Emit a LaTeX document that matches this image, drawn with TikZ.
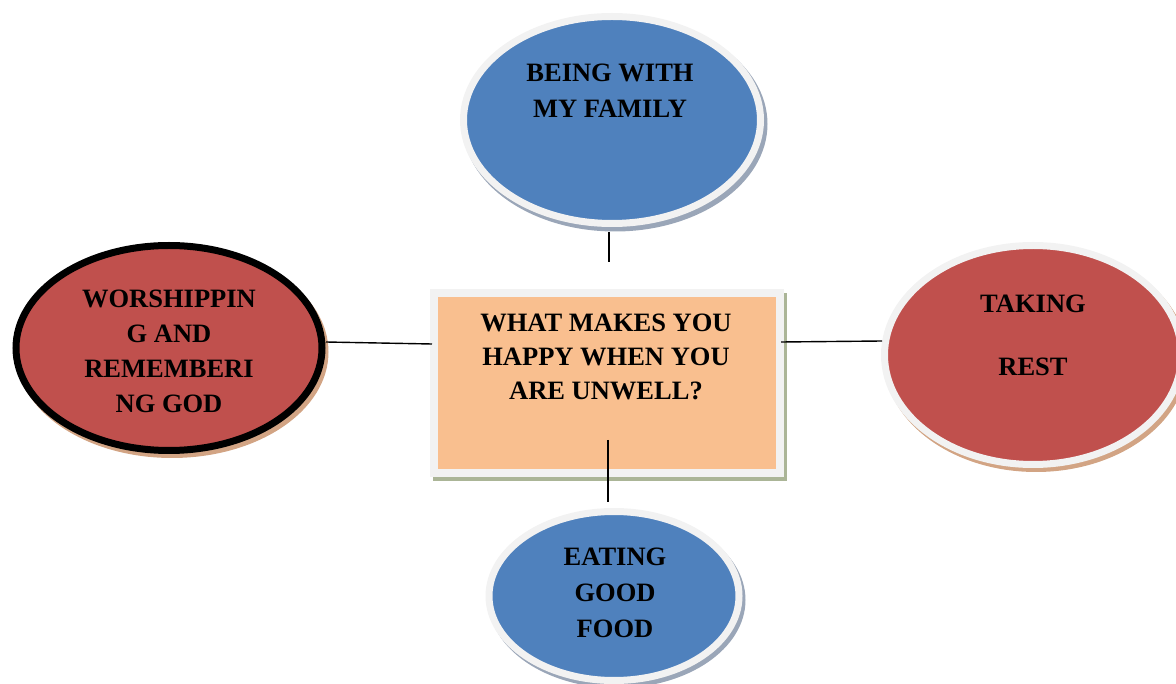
\documentclass[tikz,border=0pt]{standalone}
\usepackage{fontspec}
\setmainfont{Liberation Serif}
\usetikzlibrary{shapes.geometric}
\definecolor{blueF}{HTML}{4F81BD}
\definecolor{redF}{HTML}{C0504D}
\definecolor{orangeF}{HTML}{F9BF8F}
\definecolor{ringC}{HTML}{F2F2F2}
\definecolor{blueSh}{HTML}{9AA6B8}
\definecolor{redSh}{HTML}{D2A484}
\definecolor{rectSh}{HTML}{ABB597}
\begin{document}
\begin{tikzpicture}[x=1pt,y=-1pt,
  bubble/.style={ellipse, inner sep=0pt, line width=7pt},
  shadeE/.style={ellipse, inner sep=0pt, draw=none},
  lbl/.style={align=center, inner sep=0pt, font=\bfseries\fontsize{26.5}{#1}\selectfont},
  link/.style={line width=1.4pt, draw=black}]
\useasboundingbox (0,0) rectangle (1176,684);

% top ellipse
\node[shadeE, fill=blueSh, minimum width=305pt, minimum height=215pt] (topS) at (615,124) {};
\node[bubble, fill=blueF, draw=ringC, minimum width=297pt, minimum height=207pt] (top) at (612,120) {};
\node[lbl=36] (topT) at (610,91) {BEING WITH\\MY FAMILY};

% center rectangle
\node[rectangle, inner sep=0pt, fill=rectSh, minimum width=354pt, minimum height=188pt] (ctrS) at (609.5,387) {};
\node[rectangle, inner sep=0pt, line width=8pt, draw=ringC, fill=orangeF, minimum width=346pt, minimum height=180pt] (ctr) at (606.5,383) {};
\node[lbl=34] (ctrT) at (606,357) {WHAT MAKES YOU\\HAPPY WHEN YOU\\ARE UNWELL?};

% left ellipse
\node[shadeE, fill=redSh, minimum width=313pt, minimum height=212pt] (leftS) at (172,352) {};
\node[bubble, fill=redF, draw=black, minimum width=306pt, minimum height=205pt] (left) at (169,348) {};
\node[lbl=35] (leftT) at (169,351) {WORSHIPPIN\\G AND\\REMEMBERI\\NG GOD};

% right ellipse
\node[shadeE, fill=redSh, minimum width=304pt, minimum height=226pt] (rightS) at (1036,359) {};
\node[bubble, fill=redF, draw=ringC, minimum width=297pt, minimum height=219pt] (right) at (1033,355) {};
\node[lbl=63] (rightT) at (1033,335.5) {TAKING\\REST};

% bottom ellipse
\node[shadeE, fill=blueSh, minimum width=257pt, minimum height=176pt] (botS) at (617,600) {};
\node[bubble, fill=blueF, draw=ringC, minimum width=250pt, minimum height=169pt] (bot) at (614,596) {};
\node[lbl=36] (botT) at (615,593) {EATING\\GOOD\\FOOD};

% connectors
\coordinate (t1) at (609,232);
\coordinate (t2) at (609,262);
\coordinate (b1) at (608,440);
\coordinate (b2) at (608,502);
\coordinate (l1) at (326,342);
\coordinate (l2) at (432,344);
\coordinate (r1) at (781,342);
\coordinate (r2) at (882,341);
\draw[link] (t1) -- (t2);
\draw[link] (b1) -- (b2);
\draw[link] (l1) -- (l2);
\draw[link] (r1) -- (r2);
\end{tikzpicture}
\end{document}
